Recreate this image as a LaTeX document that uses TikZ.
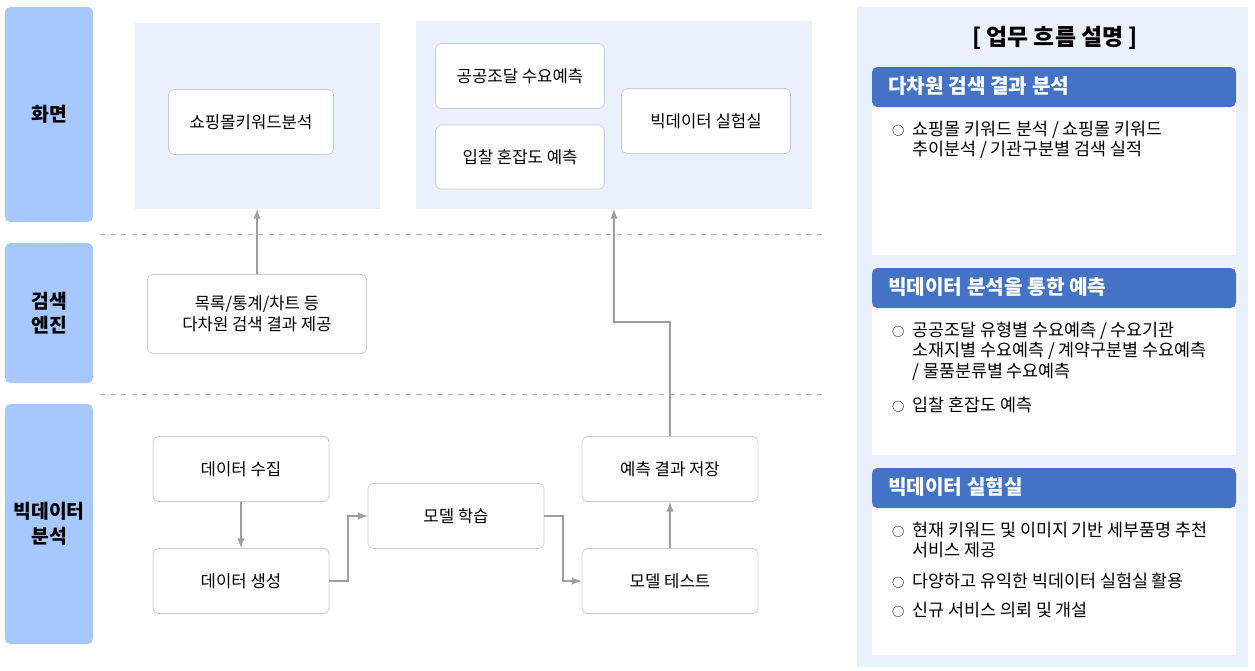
\documentclass[tikz,border=0pt]{standalone}
\usepackage{fontspec}
\setmainfont{Noto Sans CJK KR}
\usetikzlibrary{positioning}
\definecolor{lanec}{HTML}{A6C8FF}
\definecolor{panelc}{HTML}{EBF1FC}
\definecolor{headc}{HTML}{4472C4}
\definecolor{linec}{HTML}{9E9E9E}
\newcommand{\blt}{{\fontsize{7}{8}\selectfont○}\ \ }
\newcommand{\ind}{\phantom{\blt}}
\begin{document}
\begin{tikzpicture}[x=0.02cm,y=-0.02cm,
    lane/.style={fill=lanec,rounded corners=3pt},
    box/.style={draw=black!20,fill=white,rounded corners=3pt,align=center,font=\fontsize{9.5}{12}\selectfont},
    flow/.style={draw=linec,line width=0.9pt,-latex},
    head/.style={fill=headc,text=white,font=\bfseries\fontsize{11.5}{14}\selectfont,anchor=west},
    item/.style={anchor=north west,align=left,font=\fontsize{9.9}{11.5}\selectfont}
  ]
  \useasboundingbox (0,0) rectangle (1255,670);
  % Lanes.
  \fill[lane] (5,7) rectangle (93,222);
  \fill[lane] (5,243) rectangle (93,383);
  \fill[lane] (5,404) rectangle (93,644);
  \node[font=\bfseries\fontsize{11}{14}\selectfont,align=center] (l1) at (49,114) {화면};
  \node[font=\bfseries\fontsize{11}{14}\selectfont,align=center] (l2) at (49,313) {검색\\엔진};
  \node[font=\bfseries\fontsize{11}{14}\selectfont,align=center] (l3) at (49,524) {빅데이터\\분석};
  \draw[black!30,dashed] (100,234) -- (825,234);
  \draw[black!30,dashed] (100,394) -- (825,394);
  % Screen panels.
  \fill[panelc] (135,23) rectangle (380,209);
  \fill[panelc] (416,21) rectangle (812,209);
  \node[box,minimum width=165*0.02cm,minimum height=65*0.02cm] (shop) at (251,122) {쇼핑몰키워드분석};
  \node[box,minimum width=169*0.02cm,minimum height=65*0.02cm] (demand) at (520,76) {공공조달 수요예측};
  \node[box,minimum width=169*0.02cm,minimum height=64*0.02cm] (bid) at (520,157) {입찰 혼잡도 예측};
  \node[box,minimum width=169*0.02cm,minimum height=65*0.02cm] (lab) at (706,121) {빅데이터 실험실};
  % Engine and analysis.
  \node[box,minimum width=219*0.02cm,minimum height=79*0.02cm] (multi) at (257,314) {목록/통계/차트 등\\다차원 검색 결과 제공};
  \node[box,minimum width=176*0.02cm,minimum height=65*0.02cm] (collect) at (241,469) {데이터 수집};
  \node[box,minimum width=176*0.02cm,minimum height=65*0.02cm] (gen) at (241,581) {데이터 생성};
  \node[box,minimum width=176*0.02cm,minimum height=65*0.02cm] (train) at (456,516) {모델 학습};
  \node[box,minimum width=176*0.02cm,minimum height=65*0.02cm] (save) at (670,469) {예측 결과 저장};
  \node[box,minimum width=176*0.02cm,minimum height=65*0.02cm] (test) at (670,581) {모델 테스트};
  \coordinate (top1) at (257,209);
  \coordinate (top2) at (614,209);
  \draw[flow] (multi.north) -- (top1);
  \draw[flow] (collect) -- (gen);
  \draw[flow] (gen.east) -- (348,581) -- (348,516) -- (train.west);
  \draw[flow] (train.east) -- (563,516) -- (563,581) -- (test.west);
  \draw[flow] (test) -- (save);
  \draw[flow] (save.north) -- (670,322) -- (614,322) -- (top2);
  % Description panel.
  \fill[panelc] (857,7) rectangle (1248,667);
  \node[font=\bfseries\fontsize{13}{15}\selectfont] (title) at (1055,38) {[ 업무 흐름 설명 ]};
  \fill[white] (872,67) rectangle (1236,255);
  \fill[white] (872,268) rectangle (1236,455);
  \fill[white] (872,468) rectangle (1236,655);
  \fill[headc,rounded corners=3pt] (872,67) rectangle (1236,107);
  \fill[headc,rounded corners=3pt] (872,268) rectangle (1236,308);
  \fill[headc,rounded corners=3pt] (872,468) rectangle (1236,508);
  \node[head] (h1) at (882,86) {다차원 검색 결과 분석};
  \node[head] (h2) at (882,287) {빅데이터 분석을 통한 예측};
  \node[head] (h3) at (882,487) {빅데이터 실험실};
  \node[item] (i1) at (886,115) {\blt 쇼핑몰 키워드 분석 / 쇼핑몰 키워드\\\ind 추이분석 / 기관구분별 검색 실적};
  \node[item] (i2) at (886,316) {\blt 공공조달 유형별 수요예측 / 수요기관\\\ind 소재지별 수요예측 / 계약구분별 수요예측\\\ind / 물품분류별 수요예측};
  \node[item] (i3) at (886,391) {\blt 입찰 혼잡도 예측};
  \node[item] (i4) at (886,516) {\blt 현재 키워드 및 이미지 기반 세부품명 추천\\\ind 서비스 제공};
  \node[item] (i5) at (886,567) {\blt 다양하고 유익한 빅데이터 실험실 활용};
  \node[item] (i6) at (886,596) {\blt 신규 서비스 의뢰 및 개설};
\end{tikzpicture}
\end{document}
